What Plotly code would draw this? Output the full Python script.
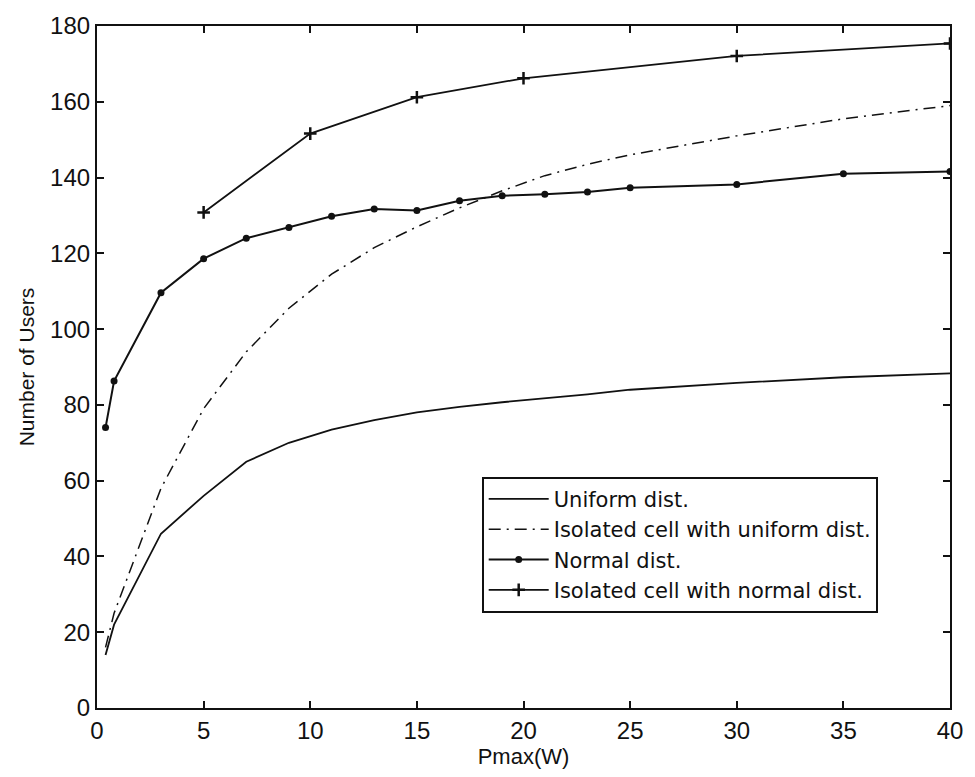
import plotly.graph_objects as go

# Maximum transmit power Pmax (W) at which each scenario was evaluated
pmax = [0.4, 0.8, 3, 5, 7, 9, 11, 13, 15, 17, 19, 21, 23, 25, 30, 35, 40]

uniform = [14, 22, 46, 56, 65, 70, 73.5, 76, 78, 79.5, 80.7, 81.7, 82.8, 84, 85.8, 87.3, 88.3]
iso_uniform = [16, 25, 58, 79, 94, 105.5, 114.5, 121.5, 127, 132, 136.5, 140.5, 143.5, 146, 151, 155.5, 159]
normal = [74, 86.3, 109.6, 118.6, 124, 126.8, 129.8, 131.7, 131.3, 133.9, 135.2, 135.6, 136.2, 137.3, 138.2, 141, 141.6]

pmax_iso_normal = [5, 10, 15, 20, 30, 40]
iso_normal = [130.8, 151.6, 161.2, 166.2, 172.1, 175.4]

x_ticks = [0, 5, 10, 15, 20, 25, 30, 35, 40]
y_ticks = [0, 20, 40, 60, 80, 100, 120, 140, 160, 180]

BLACK = "#111111"
FONT = "Liberation Sans, Arial, sans-serif"
LEGEND_FONT = "DejaVu Sans, Liberation Sans, sans-serif"

fig = go.Figure()

fig.add_trace(go.Scatter(
    x=pmax, y=uniform, mode="lines", name="Uniform dist.",
    line=dict(color=BLACK, width=1.8)))

fig.add_trace(go.Scatter(
    x=pmax, y=iso_uniform, mode="lines", name="Isolated cell with uniform dist.",
    line=dict(color=BLACK, width=1.5, dash="12px,6px,2px,6px")))

fig.add_trace(go.Scatter(
    x=pmax, y=normal, mode="lines+markers", name="Normal dist.",
    line=dict(color=BLACK, width=2),
    marker=dict(symbol="circle", size=7, color=BLACK)))

fig.add_trace(go.Scatter(
    x=pmax_iso_normal, y=iso_normal, mode="lines+markers",
    name="Isolated cell with normal dist.",
    line=dict(color=BLACK, width=1.8),
    marker=dict(symbol="cross-thin-open", size=9,
                line=dict(color=BLACK, width=2.5))))

axis_common = dict(
    showline=True, linecolor=BLACK, linewidth=2.2, mirror="ticks",
    ticks="inside", ticklen=7, tickwidth=1.8, tickcolor=BLACK,
    showgrid=False, zeroline=False,
    tickfont=dict(family=FONT, size=24, color=BLACK),
)

fig.update_xaxes(
    range=[0, 40], tickvals=x_ticks, ticktext=[str(v) for v in x_ticks],
    title=dict(text="Pmax(W)", font=dict(family=FONT, size=22, color=BLACK), standoff=4),
    **axis_common)

fig.update_yaxes(
    range=[0, 180], tickvals=y_ticks, ticktext=[str(v) for v in y_ticks],
    title=dict(text="Number of Users", font=dict(family=FONT, size=21, color=BLACK), standoff=10),
    **axis_common)

fig.update_layout(
    width=975, height=777,
    margin=dict(l=97, r=18, t=20, b=69),
    paper_bgcolor="white", plot_bgcolor="white",
    showlegend=True,
    legend=dict(
        x=0.451, y=0.339, xanchor="left", yanchor="top",
        bgcolor="white", bordercolor=BLACK, borderwidth=2,
        font=dict(family=LEGEND_FONT, size=21, color=BLACK),
        itemwidth=60,
    ),
)

fig.write_html("out.html")
